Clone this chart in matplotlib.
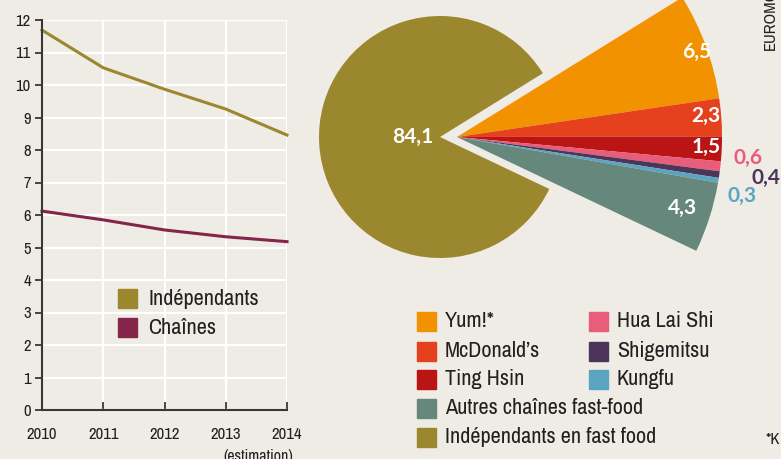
import matplotlib.pyplot as plt
from matplotlib.patches import Rectangle

# line chart data
years = [2010, 2011, 2012, 2013, 2014]
independants = [11.69, 10.53, 9.87, 9.26, 8.46]
chaines = [6.12, 5.85, 5.54, 5.33, 5.18]

# pie data
big_value = 84.1
small_names = ["Yum!*", "McDonald’s", "Ting Hsin", "Hua Lai Shi", "Shigemitsu", "Kungfu",
               "Autres chaînes fast-food"]
small_values = [6.5, 2.3, 1.5, 0.6, 0.4, 0.3, 4.3]
small_labels = ["6,5", "2,3", "1,5", "0,6", "0,4", "0,3", "4,3"]

BG = "#efebe5"
OLIVE = "#9b872e"
MAROON = "#84264a"
small_colors = ["#f39200", "#e6411e", "#bb1414", "#e85d7a", "#4b3659", "#5ba4c2", "#66887c"]

plt.rcParams['font.family'] = ['Archivo Narrow', 'DejaVu Sans']
BOLD = ['Lato', 'DejaVu Sans']
TXT = "#231f20"

fig = plt.figure(figsize=(7.81, 4.59), dpi=100, facecolor=BG)
W, H = 781, 459

# ---- left line chart
ax = fig.add_axes([42 / W, (H - 410) / H, (287 - 42) / W, (410 - 20) / H])
ax.set_facecolor(BG)
ax.set_xlim(2010, 2014)
ax.set_ylim(0, 12)
ax.set_yticks(range(13))
ax.set_xticks(years)
ax.grid(True, color="white", lw=1.6)
ax.set_axisbelow(True)
for s in ["top", "right"]:
    ax.spines[s].set_visible(False)
for s in ["left", "bottom"]:
    ax.spines[s].set_color("#3a3634")
    ax.spines[s].set_linewidth(1.5)
ax.tick_params(axis="y", direction="out", length=5, width=1.3, color="#3a3634",
               labelsize=12, labelcolor=TXT, pad=3)
ax.tick_params(axis="x", direction="in", length=6, width=1.3, color="#3a3634",
               labelsize=12, labelcolor=TXT, pad=12)
ax.plot(years, independants, color=OLIVE, lw=2.2, clip_on=False)
ax.plot(years, chaines, color=MAROON, lw=2.2, clip_on=False)
ax.text(2014.1, -1.2, "(estimation)", ha="right", va="top", fontsize=11.5, color=TXT)

# legend of line chart (figure pixel coords)
fig.patches.append(Rectangle((118 / W, (H - 308) / H), 19 / W, 19 / H, transform=fig.transFigure,
                             color=OLIVE))
fig.patches.append(Rectangle((118 / W, (H - 337) / H), 19 / W, 19 / H, transform=fig.transFigure,
                             color=MAROON))
fig.text(148 / W, (H - 299) / H, "Indépendants", fontsize=16, color=TXT, va="center")
fig.text(148 / W, (H - 328) / H, "Chaînes", fontsize=16, color=TXT, va="center")

# ---- pie chart in pixel coordinates
ax2 = fig.add_axes([0, 0, 1, 1])
ax2.set_facecolor("none")

start = 31.8
ax2.pie([big_value, sum(small_values)], colors=[OLIVE, "none"], startangle=start,
        counterclock=True, radius=121, center=(440, H - 137), frame=True)
ax2.pie(small_values + [big_value], colors=small_colors + ["none"], startangle=start,
        counterclock=False, radius=265, center=(457, H - 137), frame=True)
ax2.set_xlim(0, W)
ax2.set_ylim(0, H)
ax2.axis("off")

ax2.text(413, H - 137, "84,1", color="white", fontsize=15, fontweight="bold", family=BOLD,
         ha="center", va="center")
label_pos = [(697, 52), (706, 116), (706, 147), (748, 158), (766, 178), (742, 196), (683, 208)]
label_col = ["white", "white", "white", small_colors[3], small_colors[4], small_colors[5], "white"]
for (x, y), t, c in zip(label_pos, small_labels, label_col):
    ax2.text(x, H - y, t, color=c, fontsize=15, fontweight="bold", family=BOLD,
             ha="center", va="center")

# bottom legend
legend_pos = [(417, 321), (417, 351), (417, 379), (589, 321), (589, 351), (589, 379), (417, 408)]
for (x, y), name, col in zip(legend_pos, small_names, small_colors):
    ax2.add_patch(Rectangle((x, H - y - 9.5), 19, 19, color=col))
    ax2.text(x + 28, H - y, name, fontsize=16, color=TXT, va="center")
ax2.add_patch(Rectangle((417, H - 437 - 9.5), 19, 19, color=OLIVE))
ax2.text(445, H - 437, "Indépendants en fast food", fontsize=16, color=TXT, va="center")

ax2.text(766, H - 440, "*K", fontsize=12, color=TXT, va="center")
ax2.text(770, H - 50, "EUROMONITOR", fontsize=12, color=TXT, rotation=90,
         rotation_mode="anchor", ha="left", va="center")

fig.savefig("out.png", dpi=100, facecolor=BG)
